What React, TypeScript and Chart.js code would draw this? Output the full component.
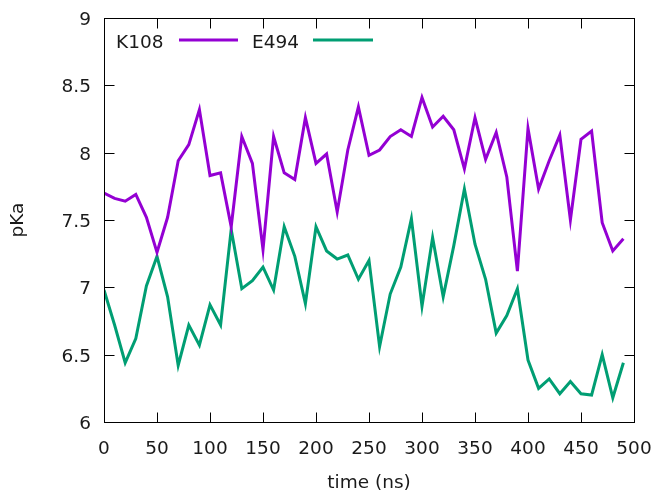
import React, { useEffect, useRef } from "react";
import { Chart, registerables } from "chart.js";

Chart.register(...registerables);

const timeNs = [
  0, 10, 20, 30, 40, 50, 60, 70, 80, 90,
  100, 110, 120, 130, 140, 150, 160, 170, 180, 190,
  200, 210, 220, 230, 240, 250, 260, 270, 280, 290,
  300, 310, 320, 330, 340, 350, 360, 370, 380, 390,
  400, 410, 420, 430, 440, 450, 460, 470, 480, 490,
];

const k108 = [
  7.70, 7.66, 7.64, 7.69, 7.52, 7.26, 7.52, 7.94, 8.06, 8.32,
  7.83, 7.85, 7.45, 8.12, 7.92, 7.28, 8.12, 7.85, 7.80, 8.26,
  7.92, 7.99, 7.56, 8.02, 8.34, 7.98, 8.02, 8.12, 8.17, 8.12,
  8.41, 8.19, 8.27, 8.17, 7.88, 8.26, 7.95, 8.15, 7.82, 7.12,
  8.18, 7.73, 7.94, 8.13, 7.50, 8.10, 8.16, 7.48, 7.27, 7.36,
];

const e494 = [
  6.98, 6.72, 6.44, 6.62, 7.01, 7.23, 6.93, 6.42, 6.72, 6.57,
  6.87, 6.72, 7.43, 6.99, 7.05, 7.15, 6.98, 7.45, 7.23, 6.88,
  7.45, 7.27, 7.21, 7.24, 7.06, 7.20, 6.56, 6.95, 7.15, 7.51,
  6.86, 7.37, 6.93, 7.31, 7.73, 7.32, 7.06, 6.66, 6.79, 6.99,
  6.46, 6.25, 6.32, 6.21, 6.30, 6.21, 6.20, 6.50, 6.18, 6.44,
];

const seriesNames = ["K108", "E494"];
const seriesColors = ["#9400d3", "#009e73"];
const xTicks = [0, 50, 100, 150, 200, 250, 300, 350, 400, 450, 500];
const yTicks = [6, 6.5, 7, 7.5, 8, 8.5, 9];
const xTitle = "time (ns)";
const yTitle = "pKa";

const FONT = "DejaVu Sans";
const FONT_CSS = `18.5px "${FONT}"`;
const TEXT = "#1a1a1a";

const framePlugin = {
  id: "frame",
  afterDraw(chart: any) {
    const { ctx, chartArea: a, scales } = chart;
    ctx.save();
    ctx.strokeStyle = "#000";
    ctx.lineWidth = 1;
    ctx.beginPath();
    const L = Math.round(a.left) + 0.5;
    const R = Math.round(a.right) + 0.5;
    const T = Math.round(a.top) + 0.5;
    const B = Math.round(a.bottom) + 0.5;
    const len = 10;
    for (const v of xTicks) {
      const px = Math.round(scales.x.getPixelForValue(v)) + 0.5;
      ctx.moveTo(px, B);
      ctx.lineTo(px, B - len);
      ctx.moveTo(px, T);
      ctx.lineTo(px, T + len);
    }
    for (const v of yTicks) {
      const py = Math.round(scales.y.getPixelForValue(v)) + 0.5;
      ctx.moveTo(L, py);
      ctx.lineTo(L + len, py);
      ctx.moveTo(R, py);
      ctx.lineTo(R - len, py);
    }
    ctx.stroke();
    ctx.strokeRect(L, T, R - L, B - T);

    // tick labels
    ctx.font = FONT_CSS;
    ctx.fillStyle = TEXT;
    ctx.textBaseline = "alphabetic";
    ctx.textAlign = "center";
    for (const v of xTicks) {
      ctx.fillText(String(v), scales.x.getPixelForValue(v), a.bottom + 32);
    }
    ctx.textAlign = "right";
    for (const v of yTicks) {
      ctx.fillText(String(v), a.left - 13, scales.y.getPixelForValue(v) + 7);
    }

    // axis titles
    ctx.textAlign = "center";
    ctx.fillText(xTitle, (a.left + a.right) / 2, a.bottom + 66);
    ctx.save();
    ctx.translate(23, (a.top + a.bottom) / 2);
    ctx.rotate(-Math.PI / 2);
    ctx.fillText(yTitle, 0, 0);
    ctx.restore();

    // key (gnuplot style: label then sample line)
    const keyBase = a.top + 30;
    const entries = [
      { x: a.left + 12, lx1: a.left + 75, lx2: a.left + 134 },
      { x: a.left + 148, lx1: a.left + 209, lx2: a.left + 269 },
    ];
    entries.forEach((e, i) => {
      ctx.fillStyle = TEXT;
      ctx.textAlign = "left";
      ctx.fillText(seriesNames[i], e.x, keyBase);
      ctx.strokeStyle = seriesColors[i];
      ctx.lineWidth = 3;
      ctx.beginPath();
      ctx.moveTo(e.lx1, a.top + 22);
      ctx.lineTo(e.lx2, a.top + 22);
      ctx.stroke();
    });
    ctx.restore();
  },
};

export default function App() {
  const ref = useRef<HTMLCanvasElement>(null);
  useEffect(() => {
    if (!ref.current) return;
    const chart = new Chart(ref.current, {
      type: "line",
      data: {
        datasets: [k108, e494].map((vals, i) => ({
          label: seriesNames[i],
          data: vals.map((y, j) => ({ x: timeNs[j], y })),
          borderColor: seriesColors[i],
          backgroundColor: seriesColors[i],
          borderWidth: 3,
          pointRadius: 0,
          tension: 0,
          fill: false,
        })),
      },
      options: {
        responsive: false,
        animation: false,
        layout: { padding: { left: 0, top: 18, right: 22, bottom: 0 } },
        plugins: { legend: { display: false }, tooltip: { enabled: false } },
        scales: {
          x: {
            type: "linear",
            min: 0,
            max: 500,
            afterFit: (s: any) => { s.height = 70; s.paddingLeft = 0; s.paddingRight = 0; },
            grid: { display: false },
            border: { display: false },
            ticks: { display: false },
            title: { display: false },
          },
          y: {
            type: "linear",
            min: 6,
            max: 9,
            afterFit: (s: any) => { s.width = 104; s.paddingTop = 0; s.paddingBottom = 0; },
            grid: { display: false },
            border: { display: false },
            ticks: { display: false },
            title: { display: false },
          },
        },
      },
      plugins: [framePlugin],
    });
    return () => chart.destroy();
  }, []);
  return (
    <div style={{ position: "absolute", left: 0, top: 0, width: 656, height: 492, background: "#fff" }}>
      <canvas ref={ref} width={656} height={492} />
    </div>
  );
}
